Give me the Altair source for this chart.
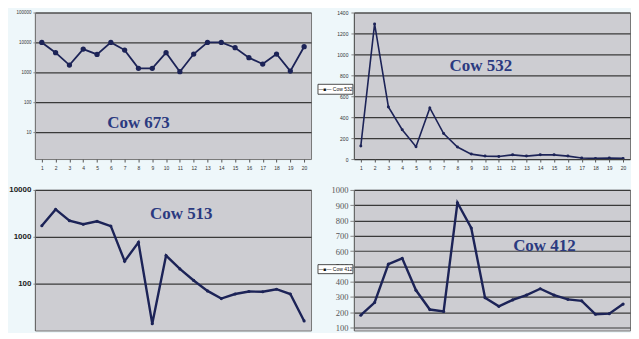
import altair as alt
import pandas as pd

days = list(range(1, 21))
cow673 = [10000, 4540, 1750, 6000, 3980, 10000, 5540, 1360, 1360, 4540,
          1050, 4080, 10000, 10000, 6650, 3090, 1890, 4080, 1100, 7190]
cow532 = [124, 1291, 498, 280, 118, 488, 243, 115, 47, 28,
          25, 40, 28, 40, 40, 28, 10, 6, 10, 6]
cow513 = [1720, 3850, 2210, 1850, 2140, 1690, 302, 759, 14, 398,
          206, 117, 70, 48, 60, 68, 67, 76, 60, 16]
cow412 = [180, 263, 514, 552, 343, 217, 205, 916, 751, 295,
          238, 280, 311, 353, 311, 284, 274, 186, 190, 253]

ticks_673 = [10, 100, 1000, 10000, 100000]
ticks_532 = [0, 200, 400, 600, 800, 1000, 1200, 1400]
ticks_513 = [100, 1000, 10000]
ticks_412 = [100, 200, 300, 400, 500, 600, 700, 800, 900, 1000]

NAVY = "#1c2357"
TXT = "#2b3a80"
GRID = "#3a3a3a"


def make_panel(values, name, label_x, label_y, yscale, yaxis, xaxis,
               w, h, msize, swidth, legend_box=None):
    df = pd.DataFrame({"day": days, "v": values})
    lab = pd.DataFrame({"day": [label_x], "v": [label_y], "t": [name]})
    xenc = alt.X("day:Q", scale=alt.Scale(domain=[0.5, 20.5], nice=False),
                 axis=xaxis, title=None)
    yenc = alt.Y("v:Q", scale=yscale, axis=yaxis, title=None)
    base = alt.Chart(df).encode(x=xenc, y=yenc)
    line = base.mark_line(strokeWidth=swidth, clip=True, color=NAVY)
    pts = base.mark_point(filled=True, size=msize, opacity=1, clip=True, color=NAVY)
    txt = alt.Chart(lab).mark_text(font="Liberation Serif", fontWeight="bold",
                                   fontSize=17, color=TXT).encode(
        x=xenc, y=yenc, text="t:N")
    layers = [line, pts, txt]
    if legend_box is not None:
        x0, x1, y0, y1, label = legend_box
        lb = pd.DataFrame({"day": [x0], "day2": [x1], "v": [y0], "v2": [y1],
                           "mx": [(x0 + x1) / 2], "my": [(y0 + y1) / 2], "t": [label]})
        box = alt.Chart(lb).mark_rect(fill="white", stroke="#222", strokeWidth=0.8,
                                      clip=False).encode(
            x=xenc, x2="day2:Q", y=yenc, y2="v2:Q")
        ltxt = alt.Chart(lb).mark_text(fontSize=5, color="#111", font="Liberation Sans",
                                       clip=False).encode(
            x=alt.X("mx:Q", scale=alt.Scale(domain=[0.5, 20.5], nice=False), axis=xaxis, title=None),
            y=alt.Y("my:Q", scale=yscale, axis=yaxis, title=None),
            text="t:N")
        layers += [box, ltxt]
    return alt.layer(*layers).properties(width=w, height=h)


def top_xaxis():
    return alt.Axis(values=days, format="d", labelFontSize=5, labelColor="#333",
                    tickSize=3, tickColor="#555", domain=False, grid=False,
                    labelPadding=3, labelFlush=False, labelOverlap=False)


p673 = make_panel(
    cow673, "Cow 673", 8, 20,
    alt.Scale(type="log", domain=[1.26, 100000], nice=False),
    alt.Axis(values=ticks_673, format="d", labelFontSize=4.5, labelColor="#333",
             gridColor=GRID, gridWidth=1.2, tickSize=2, domainColor="#777",
             labelPadding=2, labelOverlap=False),
    top_xaxis(), 277, 147, 28, 1.8)

p532 = make_panel(
    cow532, "Cow 532", 9.7, 890,
    alt.Scale(domain=[0, 1400], nice=False),
    alt.Axis(values=ticks_532, format="d", labelFontSize=5, labelColor="#333",
             gridColor=GRID, gridWidth=1.2, tickSize=3, domainColor="#555",
             labelPadding=3, labelOverlap=False),
    top_xaxis(), 277, 147, 9, 1.6,
    legend_box=(-2.1, 0.43, 714, 619, "—■— Cow 532"))

p513 = make_panel(
    cow513, "Cow 513", 11.1, 3100,
    alt.Scale(type="log", domain=[10, 10000], nice=False),
    alt.Axis(values=ticks_513, format="d", labelFontSize=8, labelFont="Liberation Sans",
             labelFontWeight="bold", labelColor="#222",
             gridColor=GRID, gridWidth=1.2, tickSize=2, domainColor="#666",
             labelPadding=2, labelOverlap=False),
    None, 277, 141, 10, 2.4)

p412 = make_panel(
    cow412, "Cow 412", 14.3, 635,
    alt.Scale(domain=[80, 1000], nice=False, zero=False),
    alt.Axis(values=ticks_412, format="d", labelFontSize=8.5, labelFont="Liberation Serif",
             labelColor="#555", gridColor=GRID, gridWidth=1.2, tickSize=4,
             domainColor="#666", labelPadding=2, labelOverlap=False),
    None, 277, 141, 10, 2.4,
    legend_box=(-2.1, 0.43, 511, 452, "—■— Cow 412"))

row1 = alt.hconcat(p673, p532, spacing=5)
row2 = alt.hconcat(p513, p412, spacing=5)
chart = alt.concat(row1, row2, columns=1, spacing=14, align="none").properties(
    padding={"left": 0, "top": 0, "right": 0, "bottom": 0},
    background="#eef7fa"
).configure(padding={"left": 0, "top": 0, "right": 0, "bottom": 0}
).configure_view(fill="#cdcdd2", stroke="#777", strokeWidth=1
).configure_axis(labelOverlap=False)

chart.save("out.html", embed_options={"renderer": "svg", "actions": False})
